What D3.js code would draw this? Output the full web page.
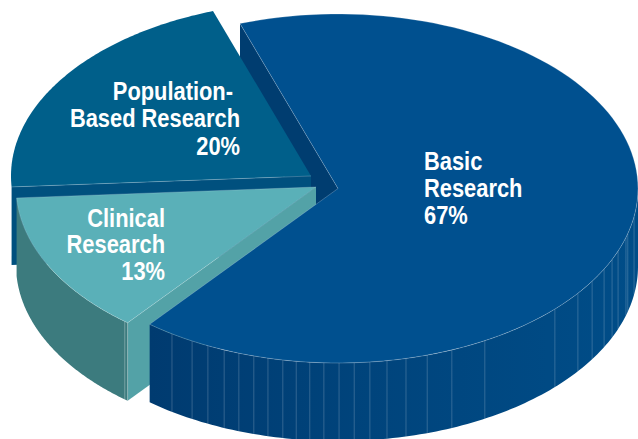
<!DOCTYPE html>
<html>
<head>
<meta charset="utf-8">
<script src="https://cdn.jsdelivr.net/npm/d3@7/dist/d3.min.js"></script>
<style>
html,body{margin:0;padding:0;background:#fff;overflow:hidden}
svg{display:block}
text{font-family:"Liberation Sans",Arial,sans-serif;font-weight:700;fill:#fff;font-size:25px}
</style>
</head>
<body>
<svg id="c" width="638" height="439"></svg>
<script>
// Data
const categories = ["Basic Research", "Clinical Research", "Population-Based Research"];
const percentLabels = [67, 13, 20];
// Slice shares as actually drawn in the perspective view of the picture
const drawnShares = [66.1, 13.2, 20.7];
const facetAngles = [213.6,209.1,205.7,202.3,199.3,196.3,193.5,190.6,188,185.4,182.7,179.8,176.9,173.9,170.6,166.9,162.7,157.7,150.7,133.7,126.9,122.1,117.5,114,111,106.3,105,99.3];

// Layout
const W = 638, H = 439, RX = 300, RY = 174.5, DEPTH = 78, CONDENSE = 0.875;
const origins = [[338,188.5],[316,187],[311,176]];
const rad = d => d * Math.PI / 180;
const svg = d3.select("#c");

const pie = d3.pie().sort(null).startAngle(rad(-19.07)).endAngle(rad(340.93));
const arcs = pie(drawnShares);

const ux = d3.scaleLinear().domain([-1,1]).range([-RX,RX]);
const uy = d3.scaleLinear().domain([-1,1]).range([RY,-RY]);
const pt = (o,a,dz=0) => [o[0]+ux(Math.sin(a)), o[1]+uy(Math.cos(a))+dz];
const line = d3.line();
const arcPts = (o,a0,a1,dz=0) => d3.range(0,121).map(i => pt(o,a0+(a1-a0)*i/120,dz));

const defs = svg.append("defs");
const g = defs.append("linearGradient").attr("id","wall").attr("gradientUnits","userSpaceOnUse")
  .attr("x1",150).attr("x2",638).attr("y1",0).attr("y2",0);
g.append("stop").attr("offset",0).attr("stop-color","#003b70");
g.append("stop").attr("offset",0.45).attr("stop-color","#00447c");
g.append("stop").attr("offset",1).attr("stop-color","#004d88");

const draw = (pts,fill,stroke,sw) => svg.append("path")
  .attr("d", line(pts)+"Z").attr("fill",fill)
  .attr("stroke",stroke||"none").attr("stroke-width",sw||0);
const PALE = "rgba(255,255,255,0.28)";

const [basic, clinical, population] = arcs;
const oB = origins[0], oC = origins[1], oP = origins[2];

// Basic: cut face at its start edge
const bs = pt(oB,basic.startAngle), bsD = pt(oB,basic.startAngle,DEPTH);
draw([bs,oB,[oB[0],oB[1]+DEPTH],bsD],"#003d70");

// Population: front cut face and top
const pe = pt(oP,population.startAngle);
draw([oP,pe,[pe[0],pe[1]+DEPTH],[oP[0],oP[1]+DEPTH]],"#00507e");
draw([oP,...arcPts(oP,population.startAngle,population.endAngle)],"#005f8a");
svg.append("path").attr("d",line([oP,pe])).attr("stroke",PALE).attr("fill","none").attr("stroke-width",0.8);

// Clinical: cut face, outer wall, top
const cs = pt(oC,clinical.startAngle);
draw([oC,cs,[cs[0],cs[1]+DEPTH],[oC[0],oC[1]+DEPTH]],"#53a2a7");
draw([...arcPts(oC,clinical.startAngle,clinical.endAngle),...arcPts(oC,clinical.endAngle,clinical.startAngle,DEPTH)],"#3c7b7e");
const cf = rad(219.6);
svg.append("path").attr("d",line([pt(oC,cf),pt(oC,cf,DEPTH)])).attr("stroke","rgba(255,255,255,0.3)").attr("stroke-width",1).attr("fill","none");
svg.append("path").attr("d",line([cs,[cs[0],cs[1]+DEPTH]])).attr("stroke","rgba(255,255,255,0.3)").attr("stroke-width",0.8).attr("fill","none");
draw([oC,...arcPts(oC,clinical.startAngle,clinical.endAngle)],"#5ab0b8",PALE,0.7);

// Basic: outer wall with facets, then top
const wallStart = rad(90);
draw([...arcPts(oB,wallStart,basic.endAngle),...arcPts(oB,basic.endAngle,wallStart,DEPTH)],"url(#wall)");
svg.selectAll("line.facet").data(facetAngles).join("line").attr("class","facet")
  .attr("x1",d=>pt(oB,rad(d))[0]).attr("y1",d=>pt(oB,rad(d))[1])
  .attr("x2",d=>pt(oB,rad(d),DEPTH)[0]).attr("y2",d=>pt(oB,rad(d),DEPTH)[1])
  .attr("stroke","rgba(255,255,255,0.22)").attr("stroke-width",0.9);
draw([oB,...arcPts(oB,basic.startAngle,basic.endAngle)],"#00508f",PALE,0.8);

// Labels
const labelSpec = [
  {lines:["Basic","Research",percentLabels[0]+"%"], x:424, y:[170,197,224], anchor:"start"},
  {lines:["Clinical","Research",percentLabels[1]+"%"], x:165, y:[227,253,280], anchor:"end"},
  {lines:["Population-","Based Research",percentLabels[2]+"%"], x:240, y:[100,127,155], anchor:"end", dx:[-7,0,0]}
];
labelSpec.forEach(l => l.lines.forEach((t,i) => {
  svg.append("text")
    .attr("transform",`translate(${l.x+((l.dx&&l.dx[i])||0)},${l.y[i]}) scale(${CONDENSE},1)`)
    .attr("text-anchor",l.anchor).text(t);
}));
</script>
</body>
</html>
